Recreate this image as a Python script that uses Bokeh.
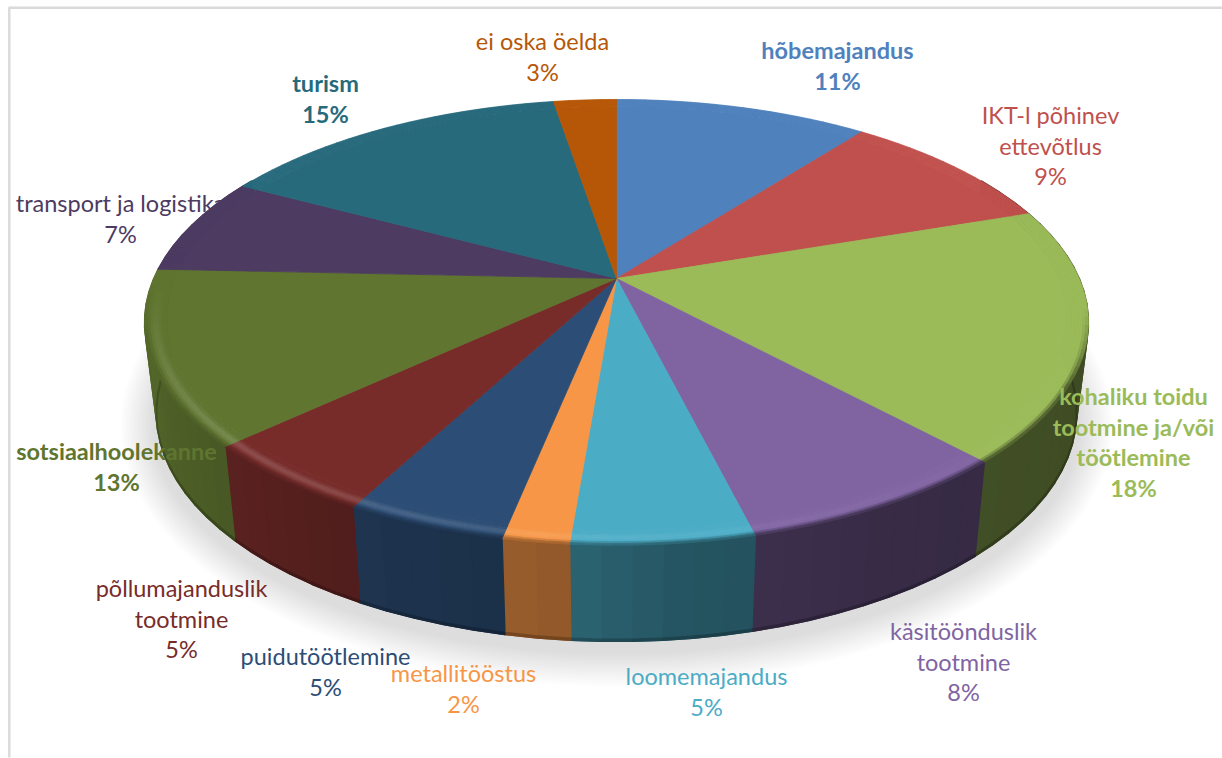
import numpy as np
from bokeh.core.properties import value
from bokeh.embed import file_html
from bokeh.models import ColumnDataSource
from bokeh.plotting import figure
from bokeh.resources import INLINE

# ---------- data ----------
categories = ["hõbemajandus", "IKT-l põhinev ettevõtlus", "kohaliku toidu tootmine ja/või töötlemine",
              "käsitöönduslik tootmine", "loomemajandus", "metallitööstus", "puidutöötlemine",
              "põllumajanduslik tootmine", "sotsiaalhoolekanne", "transport ja logistika", "turism", "ei oska öelda"]
shares = [10.5, 9.3, 18.3, 8.0, 5.2, 1.9, 4.6, 5.3, 12.6, 7.1, 14.6, 2.6]
percent_labels = ["11%", "9%", "18%", "8%", "5%", "2%", "5%", "5%", "13%", "7%", "15%", "3%"]
colors = ["#4F81BD", "#C0504D", "#9BBB59", "#8064A2", "#4BACC6", "#F79646",
          "#2C4D75", "#772C2A", "#5F7530", "#4D3B62", "#276A7C", "#B65708"]
label_rows = [["hõbemajandus"], ["IKT-l põhinev", "ettevõtlus"], ["kohaliku toidu", "tootmine ja/või", "töötlemine"],
              ["käsitöönduslik", "tootmine"], ["loomemajandus"], ["metallitööstus"], ["puidutöötlemine"],
              ["põllumajanduslik", "tootmine"], ["sotsiaalhoolekanne"], ["transport ja logistika"], ["turism"],
              ["ei oska öelda"]]
bold_labels = {"hõbemajandus", "kohaliku toidu tootmine ja/või töötlemine", "sotsiaalhoolekanne", "turism"}

# ---------- layout ----------
label_anchor = [(837, 49.5), (1050, 114.5), (1133, 395.5), (963, 630.5), (706, 675.5), (463, 672.5),
                (325, 655.5), (181, 587.5), (116, 450.5), (120, 202.5), (325, 82.5), (542, 40.5)]
LINE_STEP = 30.6
FONT = "Lato"
FONT_SIZE = "23.5px"
CX, CY, R, H, K = 616.0, 278.0, 462.7, 214.3, 0.197
CY_LOW, R_LOW, H_LOW = 368.0, 451.0, 219.0

def project(theta, r=1.0, low=False):
    u, v = r * np.sin(theta), r * np.cos(theta)
    d = 1 + K * v
    if low:
        return CX + R_LOW * u / d, CY_LOW - H_LOW * v / d
    return CX + R * u / d, CY - H * v / d

def rgb(c):
    return np.array([int(c[i:i + 2], 16) for i in (1, 3, 5)], float)

def hexc(a):
    a = np.clip(np.round(a), 0, 255).astype(int)
    return "#%02x%02x%02x" % tuple(a)

def wall_factor(deg):
    return np.interp(deg, [100, 150, 175, 187, 200, 218, 250, 270], [.40, .43, .50, .60, .65, .72, .85, .88])

def highlight(deg):
    return np.interp(deg, [120, 150, 175, 200, 225, 250, 268], [0, .03, .07, .14, .18, .10, 0])

def edge_dark(deg):
    return np.interp(deg, [98, 118, 255, 270], [0, 1, 1, 0])

edges = np.concatenate([[0], np.cumsum(shares)]) / np.sum(shares) * 360.0

p = figure(width=1222, height=758, x_range=(0, 1222), y_range=(758, 0), output_backend="svg",
           toolbar_location=None, min_border=0, outline_line_color=None, background_fill_color="white",
           border_fill_color="white")
p.axis.visible = False
p.grid.visible = False

# frame lines
p.line([8.8, 8.8], [7, 757], line_color="#DADADA", line_width=2.4)
p.line([8, 1222], [7.2, 7.2], line_color="#DADADA", line_width=2.4)

# soft shadow under the pie
t = np.linspace(0, 2 * np.pi, 181)
for s in range(34, 0, -2):
    p.patch(CX + (462 + s) * np.cos(t), 424 + (228 + s) * np.sin(t), fill_color="#000000", fill_alpha=0.007,
            line_color=None)

def bucket():
    return dict(xs=[], ys=[], fc=[])

def add(b, px, py, col):
    b["xs"].append(list(np.round(px, 2)))
    b["ys"].append(list(np.round(py, 2)))
    b["fc"].append(col)

walls, faces = bucket(), bucket()

# outer wall, cut into narrow strips so the shade can follow the angle
for i, col in enumerate(colors):
    a0, a1 = max(edges[i], 60), min(edges[i + 1], 300)
    if a1 <= a0:
        continue
    n = max(1, int((a1 - a0) / 3))
    g = np.linspace(a0, a1, n + 1)
    for d0, d1 in zip(g[:-1], g[1:]):
        th = np.radians([d0, d1])
        x_t, y_t = project(th)
        x_b, y_b = project(th, low=True)
        c = rgb(col) * wall_factor((d0 + d1) / 2)
        add(walls, [x_t[0], x_t[1], x_b[1], x_b[0]], [y_t[0], y_t[1], y_b[1], y_b[0]], hexc(c))
for i, col in enumerate(colors):
    a0, a1 = max(edges[i], 60), min(edges[i + 1], 300)
    if a1 <= a0:
        continue
    n = max(1, int((a1 - a0) / 3))
    g = np.linspace(a0, a1, n + 1)
    for d0, d1 in zip(g[:-1], g[1:]):
        th = np.radians([d0, d1])
        x_t, y_t = project(th)
        x_b, y_b = project(th, low=True)
        c = rgb(col) * wall_factor((d0 + d1) / 2)
        # thin darker foot of the wall
        fx = x_b - (x_b - x_t) * 0.02
        fy = y_b - (y_b - y_t) * 0.02
        add(walls, [fx[0], fx[1], x_b[1], x_b[0]], [fy[0], fy[1], y_b[1], y_b[0]], hexc(c * 0.78))

# top face
INNER = 0.955
for i, col in enumerate(colors):
    a = np.radians(np.arange(edges[i], edges[i + 1], 1.0).tolist() + [edges[i + 1]])
    x_r, y_r = project(a, INNER)
    add(faces, [CX] + list(x_r), [CY] + list(y_r), col)

# bevel band: bright ridge, then a soft fall to the wall colour
steps = np.linspace(INNER, 1.0, 9)
for i, col in enumerate(colors):
    n = max(1, int((edges[i + 1] - edges[i]) / 2))
    g = np.linspace(edges[i], edges[i + 1], n + 1)
    base = rgb(col)
    for d0, d1 in zip(g[:-1], g[1:]):
        mid = (d0 + d1) / 2
        th = np.radians([d0, d1])
        for j, (r0, r1) in enumerate(zip(steps[:-1], steps[1:])):
            s = (j + .5) / 8
            x0, y0 = project(th, r0)
            x1, y1 = project(th, r1)
            c = base + (255 - base) * highlight(mid) * max(0, 1 - abs(s - .5) / .28)
            w = edge_dark(mid) * max(0, (s - .72) / .28)
            c = c * (1 - w) + base * wall_factor(mid) * w
            add(faces, [x0[0], x0[1], x1[1], x1[0]], [y0[0], y0[1], y1[1], y1[0]], hexc(c))

p.patches("xs", "ys", source=ColumnDataSource(walls), fill_color="fc", line_color="fc", line_width=1.6)
p.patches("xs", "ys", source=ColumnDataSource(faces), fill_color="fc", line_color="fc", line_width=0.8)

# labels
for cat, rows, pct, col, (lx, ly) in zip(categories, label_rows, percent_labels, colors, label_anchor):
    style = "bold" if cat in bold_labels else "normal"
    lines = rows + [pct]
    p.text(x=[lx] * len(lines), y=[ly + n * LINE_STEP for n in range(len(lines))], text=lines,
           text_color=col, text_font=value(FONT), text_font_size=value(FONT_SIZE), text_font_style=style,
           text_align="center", text_baseline="middle")

open("out.html", "w").write(file_html(p, INLINE))
